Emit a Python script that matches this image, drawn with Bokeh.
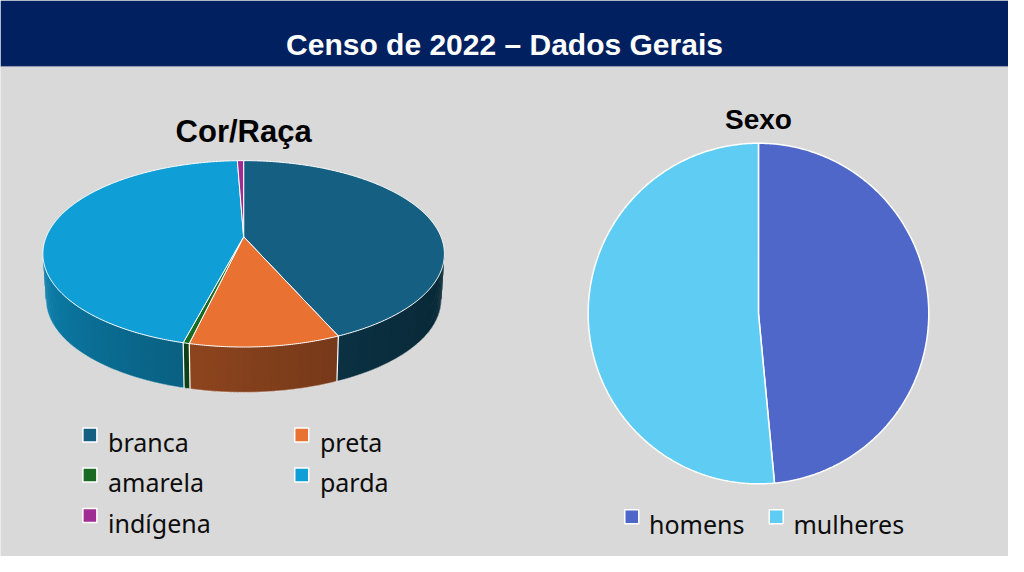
import numpy as np
from bokeh.plotting import figure
from bokeh.models import Range1d
from bokeh.core.properties import value
from bokeh.embed import file_html
from bokeh.resources import INLINE

# ---------------- data ----------------
main_title = "Censo de 2022 – Dados Gerais"

raca_title = "Cor/Raça"
raca_labels = ["branca", "preta", "amarela", "parda", "indígena"]
raca_values = [43.46, 10.17, 0.42, 45.34, 0.60]
raca_colors = ["#156082", "#E97132", "#196B24", "#0F9ED5", "#A02B93"]

sexo_title = "Sexo"
sexo_labels = ["homens", "mulheres"]
sexo_values = [48.5, 51.5]
sexo_colors = ["#4E67C8", "#5ECCF3"]

# ---------------- figure ----------------
W, H = 1008, 556
S = W / 1024.0
p = figure(width=W, height=H, x_range=Range1d(0, 1024), y_range=Range1d(H / S, 0),
           output_backend="svg", toolbar_location=None, min_border=0)
p.axis.visible = False
p.xgrid.visible = False
p.ygrid.visible = False
p.outline_line_color = None
p.background_fill_color = "#D9D9D9"
p.border_fill_color = "#D9D9D9"

# header
p.quad(left=[0], right=[1024], top=[0], bottom=[67], fill_color="#002060", line_color=None)
p.segment(x0=[0], y0=[67], x1=[1024], y1=[67], line_color="#8E97B3", line_width=1)
p.text(x=[512], y=[45], text=[main_title], text_color="white", text_align="center",
       text_baseline="alphabetic", text_font=value("Liberation Sans"),
       text_font_style="bold", text_font_size="30px")

# ---------------- 3D pie (Cor/Raça) ----------------
p.text(x=[247], y=[133.5], text=[raca_title], text_color="black", text_align="center",
       text_baseline="alphabetic", text_font=value("Liberation Sans"),
       text_font_style="bold", text_font_size="31px")

cx, cy = 247.0, 240.0      # projected centre (apex)
A, B, k = 200.5, 91.5, 0.1833
depth = 46.0


def top_pt(t):
    t = np.asarray(t, dtype=float)
    u, v = np.sin(t), np.cos(t)
    d = 1 + k * v
    return cx + A * u / d, cy - B * v / d


def bot_pt(t):
    x, y = top_pt(t)
    return cx + (x - cx) * 0.985, y + depth


def hex_to_rgb(h):
    h = h.lstrip("#")
    return np.array([int(h[i:i + 2], 16) for i in (0, 2, 4)], dtype=float)


def rgb_to_hex(c):
    c = np.clip(np.round(c), 0, 255).astype(int)
    return "#%02x%02x%02x" % tuple(c)


vals = np.array(raca_values, dtype=float)
cum = np.concatenate([[0], np.cumsum(vals)]) / vals.sum() * 2 * np.pi

tL = np.arccos(-k)
tR = 2 * np.pi - tL

side_xs, side_ys, side_cols = [], [], []
ov = np.radians(0.6)
for i, col in enumerate(raca_colors):
    a0, a1 = max(cum[i], tL), min(cum[i + 1], tR)
    if a1 <= a0:
        continue
    n = max(2, int(np.ceil((a1 - a0) / np.radians(0.8))))
    edges = np.linspace(a0, a1, n + 1)
    base = hex_to_rgb(col)
    for j in range(n):
        ta = edges[j]
        tb = min(edges[j + 1] + ov, a1)
        xa, ya = top_pt([ta, tb])
        xb, yb = bot_pt([tb, ta])
        side_xs.append(list(xa) + list(xb))
        side_ys.append(list(ya) + list(yb))
        tm = 0.5 * (edges[j] + edges[j + 1])
        fr = np.clip((np.degrees(tm) - 100.0) / 160.0, 0, 1)
        f = 0.42 + 0.42 * fr ** 1.5
        side_cols.append(rgb_to_hex(base * f))

p.patches(xs=side_xs, ys=side_ys, fill_color=side_cols, line_color=None)

# bottom rim
tb_arc = np.linspace(tL, tR, 200)
bx, by = bot_pt(tb_arc)
p.line(x=bx, y=by, line_color="white", line_alpha=0.45, line_width=1)

# side separators
sep_t = [c for c in cum[1:-1] if tL < c < tR]
if sep_t:
    sx0, sy0 = top_pt(sep_t)
    sx1, sy1 = bot_pt(sep_t)
    p.segment(x0=sx0, y0=sy0, x1=sx1, y1=sy1, line_color="white", line_width=1.2)

# top faces
top_xs, top_ys = [], []
for i in range(len(raca_values)):
    n = max(3, int(np.ceil((cum[i + 1] - cum[i]) / np.radians(0.5))))
    tt = np.linspace(cum[i], cum[i + 1], n)
    x, y = top_pt(tt)
    top_xs.append([cx] + list(x))
    top_ys.append([cy] + list(y))
p.patches(xs=top_xs, ys=top_ys, fill_color=raca_colors, line_color="white", line_width=1)

# legend (Cor/Raça)
leg_col_x = [90.8, 306.0]
leg_row_y = [441.5, 482.0, 523.3]
lx = [leg_col_x[i % 2] for i in range(len(raca_labels))]
ly = [leg_row_y[i // 2] for i in range(len(raca_labels))]
p.scatter(x=lx, y=ly, marker="square", size=14, fill_color=raca_colors,
          line_color="white", line_width=1.5)
p.text(x=[v + 18.5 for v in lx], y=[v + 7.5 for v in ly], text=raca_labels,
       text_color="#0d0d0d", text_align="left", text_baseline="alphabetic",
       text_font=value("Noto Sans"), text_font_size="25px")

# ---------------- 2D pie (Sexo) ----------------
p.text(x=[770], y=[121], text=[sexo_title], text_color="black", text_align="center",
       text_baseline="alphabetic", text_font=value("Liberation Sans"),
       text_font_style="bold", text_font_size="28px")

pcx, pcy, r = 770.0, 318.0, 173.0
sv = np.array(sexo_values, dtype=float)
scum = np.concatenate([[0], np.cumsum(sv)]) / sv.sum() * 2 * np.pi
pxs, pys = [], []
for i in range(len(sexo_values)):
    tt = np.linspace(scum[i], scum[i + 1], 300)
    pxs.append([pcx] + list(pcx + r * np.sin(tt)))
    pys.append([pcy] + list(pcy - r * np.cos(tt)))
p.patches(xs=pxs, ys=pys, fill_color=sexo_colors, line_color="white", line_width=1.5)

sx = [641.3, 788.0]
sy = [524.5, 524.5]
p.scatter(x=sx, y=sy, marker="square", size=14, fill_color=sexo_colors,
          line_color="white", line_width=1.5)
p.text(x=[v + 17.5 for v in sx], y=[v + 7.5 for v in sy], text=sexo_labels,
       text_color="#0d0d0d", text_align="left", text_baseline="alphabetic",
       text_font=value("Noto Sans"), text_font_size="25px")

open("out.html", "w").write(file_html(p, INLINE))
